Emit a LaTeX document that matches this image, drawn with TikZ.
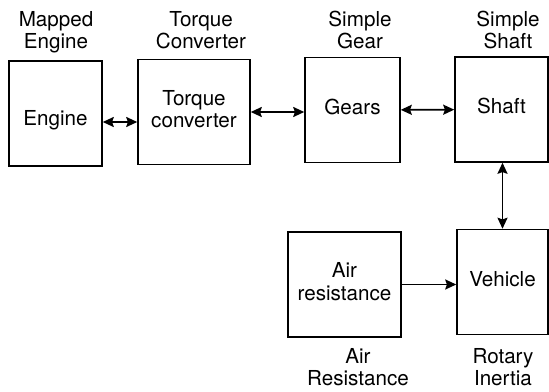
\documentclass[tikz,border=0pt]{standalone}
\usepackage{fontspec}
\setmainfont{TeX Gyre Heros}
\usetikzlibrary{arrows.meta,positioning,calc}

\begin{document}
\begin{tikzpicture}[
    x=0.03cm, y=-0.03cm,
    font=\fontsize{17.6}{19.2}\selectfont,
    >={Stealth[length=0.33cm,width=0.3cm,inset=0.05cm]},
    box/.style={draw, line width=1.3pt, minimum height=3.15cm, align=center, inner sep=0pt},
    lbl/.style={align=center, inner sep=0pt},
    arr/.style={<->, line width=1.6pt},
    sarr/.style={->, line width=1.6pt}
]
\useasboundingbox (0,0) rectangle (549,392);

% drive line
\node[box, minimum width=2.79cm] (engine) at (55.5,113.5) {\raisebox{-0.24cm}[\height][\depth]{\strut Engine}};
\node[box, minimum width=3.36cm] (tc) at (194,112) {\strut Torque\\converter\strut};
\node[box, minimum width=2.85cm] (gears) at (352.5,110) {\strut Gears};
\node[box, minimum width=2.79cm] (shaft) at (501.5,109.5) {\strut Shaft};
\node[box, minimum width=3.39cm] (air) at (344.5,284.5) {\strut Air\\resistance\strut};
\node[box, minimum width=2.73cm] (vehicle) at (502.5,282) {\strut Vehicle};

% block names
\node[lbl] (lengine) at (56,33) {\strut Mapped\\Engine\strut};
\node[lbl] (ltc) at (201,33) {\strut Torque\\Converter\strut};
\node[lbl] (lgears) at (360,33) {\strut Simple\\Gear\strut};
\node[lbl] (lshaft) at (508,33) {\strut Simple\\Shaft\strut};
\node[lbl] (lair) at (358,370) {\strut Air\\Resistance\strut};
\node[lbl] (lvehicle) at (503,370) {\strut Rotary\\Inertia\strut};

\coordinate (ea) at ($(engine.east)+(0,8.5)$);
\draw[arr] (ea) -- (ea -| tc.west);
\draw[arr] (tc.east) -- (tc.east -| gears.west);
\draw[arr] (gears) -- (shaft);
\draw[arr] (vehicle.north) -- (vehicle.north |- shaft.south);
\draw[sarr] (air.east) -- (air.east -| vehicle.west);
\end{tikzpicture}
\end{document}
